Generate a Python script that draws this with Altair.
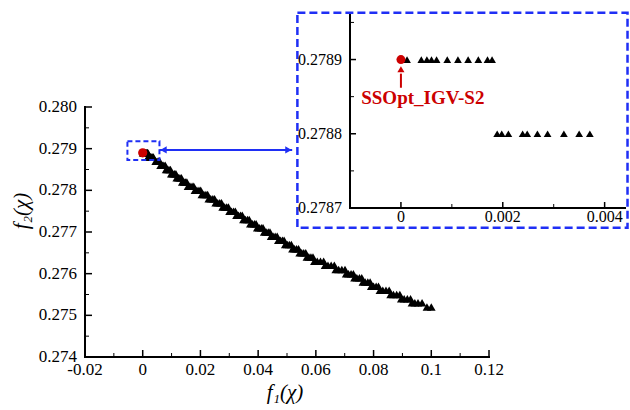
import altair as alt
import pandas as pd

# ---------------- data ----------------
f2_levels = [0.2789, 0.2788, 0.2787, 0.2786, 0.2785, 0.2784, 0.2783, 0.2782,
             0.2781, 0.2780, 0.2779, 0.2778, 0.2777, 0.2776, 0.2775, 0.2774,
             0.2773, 0.2772, 0.2771, 0.2770, 0.2769, 0.2768, 0.2767, 0.2766,
             0.2765, 0.2764, 0.2763, 0.2762, 0.2761, 0.2760, 0.2759, 0.2758,
             0.2757, 0.2756, 0.2755, 0.2754, 0.2753, 0.2752]
f1_by_level = [
    [0.00012, 0.00040, 0.00051, 0.00060, 0.00070, 0.00091, 0.00112, 0.00132, 0.00152, 0.00170, 0.00179],
    [0.00189, 0.00198, 0.00211, 0.00239, 0.00248, 0.00268, 0.00288, 0.00320, 0.00350, 0.00371],
    [0.0045, 0.0050, 0.0055, 0.0059],
    [0.0062, 0.0068, 0.0073, 0.0078],
    [0.0081, 0.0086, 0.0091, 0.0096],
    [0.0099, 0.0104, 0.0110, 0.0115],
    [0.0118, 0.0124, 0.0129, 0.0134],
    [0.0137, 0.0143, 0.0148, 0.0153],
    [0.0157, 0.0164, 0.0171, 0.0177],
    [0.0181, 0.0188, 0.0195, 0.0201],
    [0.0205, 0.0212, 0.0219, 0.0225],
    [0.0229, 0.0236, 0.0243, 0.0249],
    [0.0253, 0.0260, 0.0267, 0.0273],
    [0.0277, 0.0284, 0.0291, 0.0297],
    [0.0301, 0.0308, 0.0315, 0.0321],
    [0.0325, 0.0332, 0.0339, 0.0345],
    [0.0349, 0.0356, 0.0363, 0.0369],
    [0.0373, 0.0380, 0.0387, 0.0393],
    [0.0397, 0.0404, 0.0411, 0.0417],
    [0.0421, 0.0428, 0.0435, 0.0441],
    [0.0445, 0.0452, 0.0459, 0.0466],
    [0.0470, 0.0477, 0.0484, 0.0490],
    [0.0494, 0.0501, 0.0508, 0.0515],
    [0.0519, 0.0526, 0.0533, 0.0540],
    [0.0544, 0.0551, 0.0558, 0.0565],
    [0.0569, 0.0576, 0.0583, 0.0590],
    [0.0595, 0.0605, 0.0616, 0.0627],
    [0.0632, 0.0642, 0.0653, 0.0664],
    [0.0669, 0.0679, 0.0690, 0.0701],
    [0.0705, 0.0713, 0.0722, 0.0730],
    [0.0734, 0.0742, 0.0751, 0.0759],
    [0.0763, 0.0771, 0.0780, 0.0788],
    [0.0792, 0.0800, 0.0809, 0.0817],
    [0.0822, 0.0832, 0.0843, 0.0854],
    [0.0859, 0.0869, 0.0880, 0.0891],
    [0.0896, 0.0906, 0.0917, 0.0928],
    [0.0933, 0.0943, 0.0954, 0.0968],
    [0.0985, 0.1000],
]
opt_f1 = [0.0]
opt_f2 = [0.2789]
opt_label = ["SSOpt_IGV-S2"]

main_x_domain = [-0.02, 0.12]
main_y_domain = [0.274, 0.280]
main_x_major = [-0.02, 0.0, 0.02, 0.04, 0.06, 0.08, 0.10, 0.12]
main_x_labels = ["-0.02", "0", "0.02", "0.04", "0.06", "0.08", "0.1", "0.12"]
main_x_minor = [-0.01, 0.01, 0.03, 0.05, 0.07, 0.09, 0.11]
main_y_major = [0.274, 0.275, 0.276, 0.277, 0.278, 0.279, 0.280]
main_y_labels = ["0.274", "0.275", "0.276", "0.277", "0.278", "0.279", "0.280"]
main_y_minor = [0.2745, 0.2755, 0.2765, 0.2775, 0.2785, 0.2795]
x_title = ["f₁(χ)"]
y_title = ["f₂(χ)"]

inset_x_domain = [-0.001, 0.0044]
inset_y_domain = [0.2787, 0.27896]
inset_x_major = [0.0, 0.002, 0.004]
inset_x_labels = ["0", "0.002", "0.004"]
inset_x_minor = [0.001, 0.003]
inset_y_major = [0.2787, 0.2788, 0.2789]
inset_y_labels = ["0.2787", "0.2788", "0.2789"]
inset_y_minor = [0.27875, 0.27885, 0.27895]

zoom_box = {"x1": [-0.0053], "x2": [0.0058], "y1": [0.27873], "y2": [0.27918]}
inset_frame = {"x1": [0.0536], "x2": [0.1680], "y1": [0.27710], "y2": [0.28226]}
link_line = {"x1": [0.0058], "x2": [0.0518], "y": [0.27897]}
link_heads = {"x": [0.0072, 0.0505], "y": [0.27897, 0.27897], "shape": ["triangle-left", "triangle-right"]}
red_arrow = {"x": [0.0], "y1": [0.278862], "y2": [0.278881], "head": [0.278887]}
label_pos = {"x": [0.00043], "y": [0.278848]}

# ---------------- tables ----------------
tri = pd.DataFrame([{"f1": x, "f2": lv} for lv, xs in zip(f2_levels, f1_by_level) for x in xs])
opt = pd.DataFrame({"f1": opt_f1, "f2": opt_f2})
one = pd.DataFrame({"k": [0]})

W, H = 404, 250
IX0, IX1, IY0, IY1 = 265, 540, 101, -92   # inset plot rectangle, relative to main plot origin
SERIF = "Liberation Serif"
BLUE = "#1f2ff5"
RED = "#cc0000"

X = alt.Scale(domain=main_x_domain, nice=False, zero=False)
Y = alt.Scale(domain=main_y_domain, nice=False, zero=False)
XI = alt.Scale(domain=inset_x_domain, range=[IX0, IX1], nice=False, zero=False)
YI = alt.Scale(domain=inset_y_domain, range=[IY0, IY1], nice=False, zero=False)


def hline(x0, x1, y, w=2):
    return alt.Chart(one).mark_rule(color="black", strokeWidth=w, strokeCap="square").encode(
        x=alt.value(x0), x2=alt.value(x1), y=alt.value(y))


def vline(x, y0, y1, w=2):
    return alt.Chart(one).mark_rule(color="black", strokeWidth=w, strokeCap="square").encode(
        x=alt.value(x), y=alt.value(y0), y2=alt.value(y1))


def xticks(vals, scale, y0, length, w):
    return alt.Chart(pd.DataFrame({"v": vals})).mark_rule(color="black", strokeWidth=w).encode(
        x=alt.X("v:Q", scale=scale, axis=None), y=alt.value(y0), y2=alt.value(y0 - length))


def yticks(vals, scale, x0, length, w):
    return alt.Chart(pd.DataFrame({"v": vals})).mark_rule(color="black", strokeWidth=w).encode(
        y=alt.Y("v:Q", scale=scale, axis=None), x=alt.value(x0), x2=alt.value(x0 + length))


def xlabels(vals, labels, scale, y0, size):
    return alt.Chart(pd.DataFrame({"v": vals, "t": labels})).mark_text(
        font=SERIF, fontSize=size, color="black", align="center", baseline="top").encode(
        x=alt.X("v:Q", scale=scale, axis=None), y=alt.value(y0), text="t:N")


def ylabels(vals, labels, scale, x0, size):
    return alt.Chart(pd.DataFrame({"v": vals, "t": labels})).mark_text(
        font=SERIF, fontSize=size, color="black", align="right", baseline="middle").encode(
        y=alt.Y("v:Q", scale=scale, axis=None), x=alt.value(x0), text="t:N")


# ---------------- main plot ----------------
frame = alt.Chart(pd.DataFrame(inset_frame)).mark_rect(
    fill="white", fillOpacity=0, stroke=BLUE, strokeWidth=2.5, strokeDash=[8, 4]
).encode(x=alt.X("x1:Q", scale=X, axis=None), x2="x2:Q",
         y=alt.Y("y1:Q", scale=Y, axis=None), y2="y2:Q")

main_tri = alt.Chart(tri).mark_point(shape="triangle-up", filled=True, color="black",
                                     opacity=1, size=75).encode(
    x=alt.X("f1:Q", scale=X, axis=None), y=alt.Y("f2:Q", scale=Y, axis=None))

main_opt = alt.Chart(opt).mark_circle(color=RED, opacity=1, size=85).encode(
    x=alt.X("f1:Q", scale=X, axis=None), y=alt.Y("f2:Q", scale=Y, axis=None))

zbox = alt.Chart(pd.DataFrame(zoom_box)).mark_rect(
    fillOpacity=0, stroke=BLUE, strokeWidth=2, strokeDash=[5, 3]
).encode(x=alt.X("x1:Q", scale=X, axis=None), x2="x2:Q",
         y=alt.Y("y1:Q", scale=Y, axis=None), y2="y2:Q")

link = alt.Chart(pd.DataFrame(link_line)).mark_rule(color=BLUE, strokeWidth=2).encode(
    x=alt.X("x1:Q", scale=X, axis=None), x2="x2:Q", y=alt.Y("y:Q", scale=Y, axis=None))

heads = alt.Chart(pd.DataFrame(link_heads)).mark_point(filled=True, color=BLUE, opacity=1, size=55).encode(
    x=alt.X("x:Q", scale=X, axis=None), y=alt.Y("y:Q", scale=Y, axis=None),
    shape=alt.Shape("shape:N", scale=None))

xt = alt.Chart(pd.DataFrame({"t": x_title})).mark_text(
    font=SERIF, fontSize=21, fontStyle="italic", color="black", align="center", baseline="middle"
).encode(x=alt.value(200), y=alt.value(286), text="t:N")
yt = alt.Chart(pd.DataFrame({"t": y_title})).mark_text(
    font=SERIF, fontSize=21, fontStyle="italic", color="black", align="center", baseline="middle",
    angle=270
).encode(x=alt.value(-63), y=alt.value(104), text="t:N")

main = alt.layer(
    frame,
    hline(0, W, H), vline(0, 0, H),
    xticks(main_x_major, X, H, 7, 1.5), xticks(main_x_minor, X, H, 4, 1),
    yticks(main_y_major, Y, 0, 7, 1.5), yticks(main_y_minor, Y, 0, 4, 1),
    xlabels(main_x_major, main_x_labels, X, H + 5, 17),
    ylabels(main_y_major, main_y_labels, Y, -8, 17),
    xt, yt,
    main_tri, zbox, link, heads, main_opt,
)

# ---------------- inset ----------------
in_tri = alt.Chart(tri).transform_filter(
    "datum.f1 <= 0.0044 && datum.f2 >= 0.27875"
).mark_point(shape="triangle-up", filled=True, color="black", opacity=1, size=60).encode(
    x=alt.X("f1:Q", scale=XI, axis=None), y=alt.Y("f2:Q", scale=YI, axis=None))

in_opt = alt.Chart(opt).mark_circle(color=RED, opacity=1, size=80).encode(
    x=alt.X("f1:Q", scale=XI, axis=None), y=alt.Y("f2:Q", scale=YI, axis=None))

ra = pd.DataFrame(red_arrow)
in_shaft = alt.Chart(ra).mark_rule(color=RED, strokeWidth=2).encode(
    x=alt.X("x:Q", scale=XI, axis=None), y=alt.Y("y1:Q", scale=YI, axis=None), y2="y2:Q")
in_head = alt.Chart(ra).mark_point(shape="triangle-up", filled=True, color=RED, opacity=1, size=50).encode(
    x=alt.X("x:Q", scale=XI, axis=None), y=alt.Y("head:Q", scale=YI, axis=None))

lab = pd.DataFrame({"x": label_pos["x"], "y": label_pos["y"], "t": opt_label})
in_text = alt.Chart(lab).mark_text(font=SERIF, fontSize=19, fontWeight="bold", color=RED,
                                   align="center", baseline="middle").encode(
    x=alt.X("x:Q", scale=XI, axis=None), y=alt.Y("y:Q", scale=YI, axis=None), text="t:N")

inset = alt.layer(
    hline(IX0, IX1, IY0), vline(IX0, IY1, IY0),
    xticks(inset_x_major, XI, IY0, 6, 1.5), xticks(inset_x_minor, XI, IY0, 4, 1),
    yticks(inset_y_major, YI, IX0, 6, 1.5), yticks(inset_y_minor, YI, IX0, 4, 1),
    xlabels(inset_x_major, inset_x_labels, XI, IY0 + 1, 16),
    ylabels(inset_y_major, inset_y_labels, YI, IX0 - 8, 16),
    in_tri, in_shaft, in_head, in_text, in_opt,
)

chart = alt.layer(main, inset).resolve_scale(
    x="independent", y="independent"
).properties(
    width=W, height=H,
    autosize=alt.AutoSizeParams(type="none"),
    padding={"left": 85, "top": 107, "right": 141, "bottom": 53},
    background="white",
).configure_view(stroke=None)

chart.save("out.html", embed_options={"renderer": "svg", "actions": False})
